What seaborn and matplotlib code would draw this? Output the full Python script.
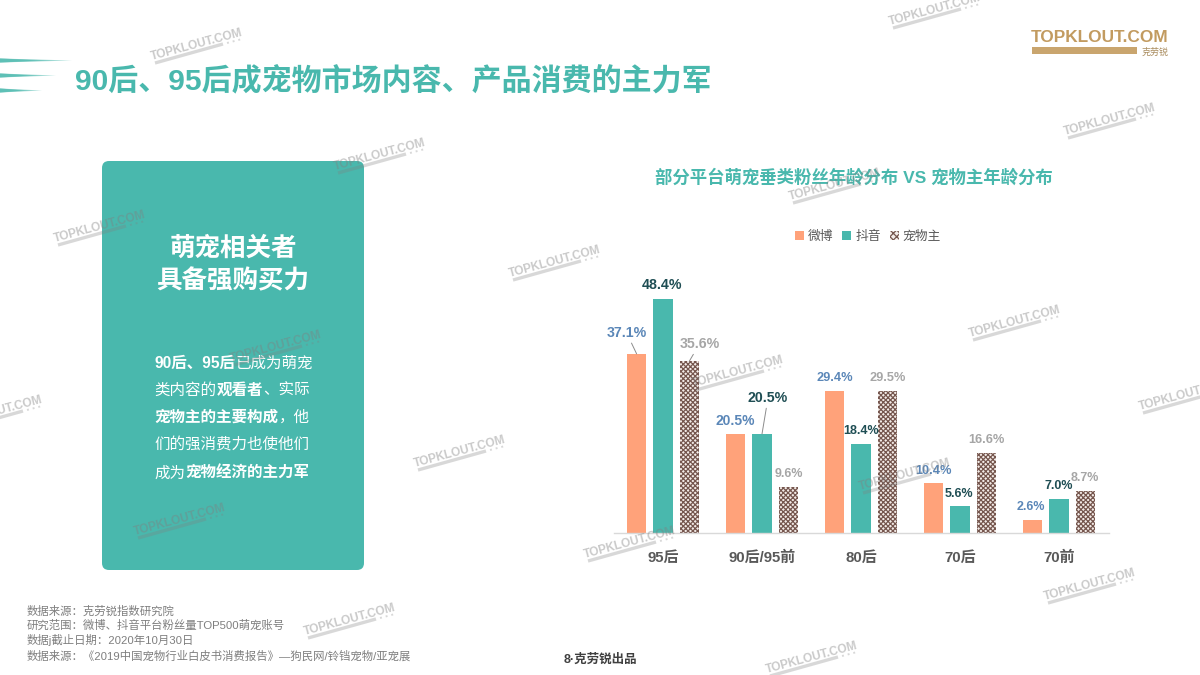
import pandas as pd
import matplotlib
matplotlib.use('Agg')
import matplotlib.pyplot as plt
import seaborn as sns
from matplotlib.patches import FancyBboxPatch, Polygon, Rectangle

ages = ['95后', '90后/95前', '80后', '70后', '70前']
series_names = ['微博', '抖音', '宠物主']
weibo = [37.1, 20.5, 29.4, 10.4, 2.6]
douyin = [48.4, 20.5, 18.4, 5.6, 7.0]
pet_owner = [35.6, 9.6, 29.5, 16.6, 8.7]

TEAL = '#49b8ad'
W, H = 1200, 675

sns.set_theme(style='white')
plt.rcParams['font.family'] = ['Liberation Sans', 'Noto Sans CJK SC']
plt.rcParams['hatch.linewidth'] = 0.9

fig = plt.figure(figsize=(12, 6.75), dpi=100, facecolor='white')

# page layer in pixel coords
bg = fig.add_axes([0, 0, 1, 1], zorder=0)
bg.set_xlim(0, W)
bg.set_ylim(H, 0)
bg.axis('off')

# swooshes fade out to the right
for y, end in [(60.5, 72), (75.5, 56), (90.5, 42)]:
    for frac in [0.55, 0.75, 1.0]:
        bg.add_patch(Polygon([(0, y - 2), (end * frac, y), (0, y + 2)], closed=True, color=TEAL, lw=0, alpha=0.5))

bg.text(75, 81, '90后、95后成宠物市场内容、产品消费的主力军', fontsize=21.6, fontweight='bold',
        color=TEAL, va='center')

bg.add_patch(FancyBboxPatch((102, 161), 262, 409, boxstyle='round,pad=0,rounding_size=7',
                            fc=TEAL, ec='none', lw=0))
bg.text(233, 249, '萌宠相关者', color='white', fontsize=18.4, fontweight='bold', ha='center', va='center')
bg.text(233, 281, '具备强购买力', color='white', fontsize=18.4, fontweight='bold', ha='center', va='center')

# body text, bold runs mixed in one line
body_lines = [
    (363, [('90后、95后', True), ('已成为萌宠', False)]),
    (390, [('类内容的', False), ('观看者', True), ('、实际', False)]),
    (417, [('宠物主的主要构成', True), ('\uff0c他', False)]),
    (445, [('们的强消费力也使他们', False)]),
    (473, [('成为', False), ('宠物经济的主力军', True)]),
]
renderer = fig.canvas.get_renderer()
for y, runs in body_lines:
    x = 154.5
    for run, is_bold in runs:
        t = bg.text(x, y, run, color='white', fontsize=11.2, va='center',
                    fontweight='bold' if is_bold else 'normal')
        x += t.get_window_extent(renderer).width

bg.text(854, 177, '部分平台萌宠垂类粉丝年龄分布 VS 宠物主年龄分布', color=TEAL, fontsize=12.55,
        fontweight='bold', ha='center', va='center')

footer = ['数据来源\uff1a克劳锐指数研究院',
          '研究范围\uff1a微博、抖音平台粉丝量TOP500萌宠账号',
          '数据j截止日期\uff1a2020年10月30日',
          '数据来源\uff1a《2019中国宠物行业白皮书消费报告》—狗民网/铃铛宠物/亚宠展']
for y, line in zip([611, 625, 640, 656], footer):
    bg.text(27, y, line, color='#7f7f7f', fontsize=8.2, va='center')
bg.text(600, 660, '8·克劳锐出品', color='#404040', fontsize=9.0, fontweight='bold', ha='center', va='center')

# logo
bg.text(1100, 37, 'TOPKLOUT.COM', color='#c29b60', fontsize=12.4, fontweight='bold', ha='center', va='center')
bg.add_patch(Rectangle((1032, 47), 105, 7, color='#c9a56e', lw=0))
bg.text(1155, 52, '克劳锐', color='#a98c5e', fontsize=6.5, ha='center', va='center')

# chart
df = pd.DataFrame({'age': ages * 3,
                   'value': weibo + douyin + pet_owner,
                   'series': [s for s in series_names for _ in ages]})

ax = fig.add_axes([613.5 / W, 1 - 533 / H, 495 / W, 241.5 / H], zorder=1)
ax.patch.set_alpha(0)
sns.barplot(data=df, x='age', y='value', hue='series', order=ages, hue_order=series_names,
            palette=['#ffa27a', TEAL, '#f4ece8'], width=0.8, gap=0.28, saturation=1,
            linewidth=0, ax=ax)
ax.set_xlim(-0.5, 4.5)
ax.set_ylim(0, 50)
ax.set_xlabel('')
ax.set_ylabel('')
ax.set_yticks([])
sns.despine(ax=ax, left=True)
ax.spines['bottom'].set_color('#d9d9d9')
ax.spines['bottom'].set_linewidth(1)
ax.tick_params(axis='x', length=0, pad=13)
for lab in ax.get_xticklabels():
    lab.set_fontsize(10.8)
    lab.set_fontweight('bold')
    lab.set_color('#595959')

for bar in ax.containers[2]:
    bar.set_hatch('xxxxxxx')
    bar.set_edgecolor('#75564e')
    bar.set_linewidth(0)

# (dx, dy, size) of each value label from its bar top, in pixels
label_colors = ['#5b87b8', '#1f4e54', '#a6a6a6']
label_offsets = [
    [(-10, 21, 10.2), (0, 13, 10), (0, 13, 9.2), (0, 12, 9.2), (-2, 13, 9)],
    [(-1, 14, 10.2), (6, 36, 10.2), (0, 13, 9), (-1, 12, 9), (0, 13, 9)],
    [(10, 17, 10.2), (0, 13, 9), (0, 13, 9.2), (0, 13, 9.2), (-1, 13, 9)],
]
leaders = {(0, 0), (2, 0), (1, 1)}
for s, container in enumerate(ax.containers):
    for i, bar in enumerate(container):
        dx, dy, size = label_offsets[s][i]
        top = (bar.get_x() + bar.get_width() / 2, bar.get_height())
        arrow = None
        if (s, i) in leaders:
            arrow = dict(arrowstyle='-', color='#8c8c8c', lw=0.7, shrinkA=0, shrinkB=0)
        ax.annotate(f'{bar.get_height():.1f}%', xy=top, xytext=(dx, dy), textcoords='offset pixels',
                    ha='center', va='center', fontsize=size, fontweight='bold',
                    color=label_colors[s], arrowprops=arrow, annotation_clip=False)

handles, labels = ax.get_legend_handles_labels()
ax.legend(handles, labels, ncol=3, frameon=False, loc='center', bbox_to_anchor=(868 / W, 1 - 237 / H),
          bbox_transform=fig.transFigure, prop={'size': 9.2}, labelcolor='#595959',
          handlelength=0.7, handleheight=0.7, handletextpad=0.3, columnspacing=0.7)
leg_patch = ax.get_legend().get_patches()[2]
leg_patch.set_hatch('xxxxx')
leg_patch.set_edgecolor('#75564e')
leg_patch.set_linewidth(0)

# watermarks on top of everything
wm = fig.add_axes([0, 0, 1, 1], zorder=2)
wm.set_xlim(0, W)
wm.set_ylim(H, 0)
wm.axis('off')
wm.patch.set_alpha(0)
marks = [(197, 45), (380, 155), (100, 227), (555, 262), (276, 347), (460, 452), (-3, 412), (180, 520),
         (630, 543), (350, 620), (812, 658), (1090, 585), (1015, 322), (1110, 120), (935, 10),
         (835, 185), (738, 372), (905, 475), (1185, 395)]
for x, y in marks:
    wm.text(x, y, 'TOPKLOUT.COM', color='#808080', alpha=0.42, fontsize=8.6, fontweight='bold', rotation=15,
            rotation_mode='anchor', ha='center', va='center')
    wm.plot([x - 42, x + 26], [y + 18, y - 1], color='#808080', alpha=0.3, lw=2.4, solid_capstyle='butt')
    wm.plot([x + 30, x + 45], [y - 2, y - 6], color='#808080', alpha=0.3, lw=1.4, ls=(0, (1, 2)))

fig.savefig('out.png', dpi=100)
